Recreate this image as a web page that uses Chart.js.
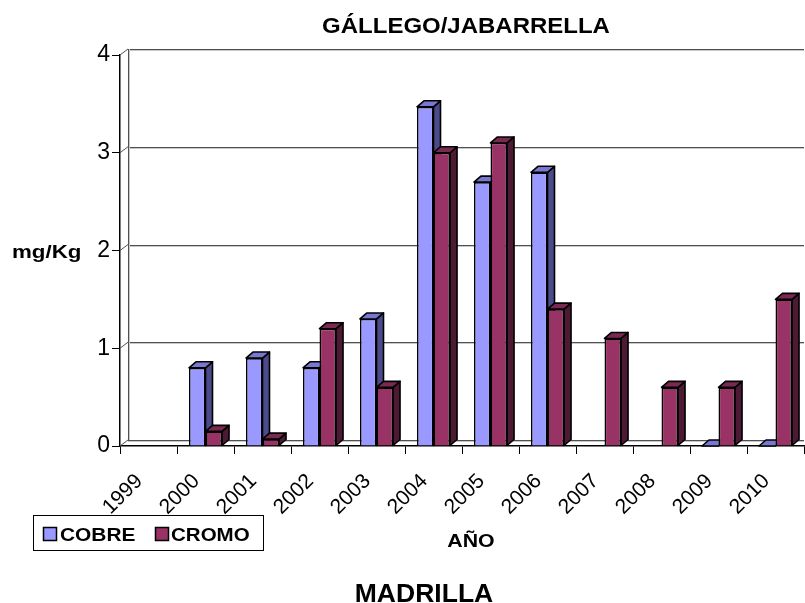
<!DOCTYPE html>
<html>
<head>
<meta charset="utf-8">
<script src="https://cdn.jsdelivr.net/npm/chart.js@4/dist/chart.umd.min.js"></script>
<style>
html,body{margin:0;padding:0;background:#fff;}
#c{display:block;}
</style>
</head>
<body>
<canvas id="c" width="805" height="603"></canvas>
<script>
// ---- data ----
const years = ['1999','2000','2001','2002','2003','2004','2005','2006','2007','2008','2009','2010'];
const cobre = [null, 0.8, 0.9, 0.8, 1.3, 3.47, 2.7, 2.8, null, null, 0, 0];
const cromo = [null, 0.15, 0.07, 1.2, 0.6, 3.0, 3.1, 1.4, 1.1, 0.6, 0.6, 1.5];
const yTicks = [0, 1, 2, 3, 4];
const seriesNames = ['COBRE', 'CROMO'];
const titleText = 'GÁLLEGO/JABARRELLA';
const yTitle = 'mg/Kg';
const xTitle = 'AÑO';
const footText = 'MADRILLA';

const FONT = '"Liberation Sans", Arial, sans-serif';
const colors = {
  front: ['#9999FF', '#993366'],
  top:   ['#7878D2', '#7A2952'],
  side:  ['#4B4B8C', '#4D1A33']
};
const WDX = 8, WDY = 6;   // wall depth
const BDX = 7, BDY = 6;   // bar depth

function txt(ctx, s, x, y, font, sx, align) {
  ctx.save();
  ctx.font = font;
  ctx.fillStyle = '#000';
  ctx.textBaseline = 'alphabetic';
  ctx.textAlign = 'left';
  const w = ctx.measureText(s).width * sx;
  const left = align === 'center' ? x - w / 2 : (align === 'right' ? x - w : x);
  ctx.translate(left, y);
  ctx.scale(sx, 1);
  ctx.fillText(s, 0, 0);
  ctx.restore();
}

const threeD = {
  id: 'threeD',
  beforeDatasetsDraw(chart) {
    const ctx = chart.ctx;
    const ys = chart.scales.y;
    const a = chart.chartArea;
    ctx.save();
    yTicks.forEach(v => {
      const py = Math.round(ys.getPixelForValue(v) - WDY) + 0.5;
      ctx.strokeStyle = '#C8C8C8';
      ctx.lineWidth = 1;
      ctx.beginPath(); ctx.moveTo(a.left + WDX, py + 1); ctx.lineTo(a.right, py + 1); ctx.stroke();
      ctx.strokeStyle = '#505050';
      ctx.beginPath(); ctx.moveTo(a.left + WDX, py); ctx.lineTo(a.right, py); ctx.stroke();
      const fy = ys.getPixelForValue(v);
      ctx.strokeStyle = '#505050';
      ctx.beginPath(); ctx.moveTo(a.left, fy); ctx.lineTo(a.left + WDX, fy - WDY); ctx.stroke();
    });
    const x2 = Math.round(a.left + WDX) + 0.5;
    ctx.strokeStyle = '#C8C8C8';
    ctx.beginPath(); ctx.moveTo(x2 + 1, ys.getPixelForValue(0) - WDY); ctx.lineTo(x2 + 1, ys.getPixelForValue(4) - WDY); ctx.stroke();
    ctx.strokeStyle = '#505050';
    ctx.beginPath(); ctx.moveTo(x2, ys.getPixelForValue(0) - WDY); ctx.lineTo(x2, ys.getPixelForValue(4) - WDY); ctx.stroke();

    const n = years.length;
    for (let i = 0; i < n; i++) {
      for (let d = 0; d < 2; d++) {
        const meta = chart.getDatasetMeta(d);
        const val = chart.data.datasets[d].data[i];
        if (val === null || val === undefined) continue;
        const el = meta.data[i];
        const p = el.getProps(['x', 'y', 'base', 'width'], true);
        const l = p.x - p.width / 2, r = p.x + p.width / 2;
        const t = p.y, b = p.base;
        ctx.lineWidth = 1.6;
        ctx.lineJoin = 'round';
        ctx.strokeStyle = '#000';
        if (b - t > 0.5) {
          ctx.fillStyle = colors.side[d];
          ctx.beginPath();
          ctx.moveTo(r, t); ctx.lineTo(r + BDX, t - BDY); ctx.lineTo(r + BDX, b - BDY); ctx.lineTo(r, b); ctx.closePath();
          ctx.fill(); ctx.stroke();
        }
        ctx.fillStyle = colors.top[d];
        ctx.beginPath();
        ctx.moveTo(l, t); ctx.lineTo(l + BDX, t - BDY); ctx.lineTo(r + BDX, t - BDY); ctx.lineTo(r, t); ctx.closePath();
        ctx.fill(); ctx.stroke();
      }
    }
    ctx.restore();
  },
  afterDraw(chart) {
    const ctx = chart.ctx;
    txt(ctx, titleText, 466, 33, 'bold 22px ' + FONT, 1.09, 'center');
    txt(ctx, yTitle, 12, 258, 'bold 18px ' + FONT, 1.24, 'left');
    txt(ctx, xTitle, 471, 547, 'bold 19px ' + FONT, 1.12, 'center');
    txt(ctx, footText, 424, 602, 'bold 26px ' + FONT, 1.02, 'center');
    ctx.save();
    ctx.strokeStyle = '#000';
    ctx.lineWidth = 1;
    ctx.fillStyle = '#fff';
    ctx.fillRect(33.5, 515.5, 230, 35);
    ctx.strokeRect(33.5, 515.5, 230, 35);
    const items = [[43, 63], [155, 172]];
    ctx.lineWidth = 1.5;
    items.forEach((it, d) => {
      ctx.fillStyle = colors.front[d];
      ctx.fillRect(it[0] + 0.5, 527.5, 13, 13);
      ctx.strokeRect(it[0] + 0.5, 527.5, 13, 13);
    });
    ctx.restore();
    txt(ctx, seriesNames[0], 60, 541, 'bold 18px ' + FONT, 1.16, 'left');
    txt(ctx, seriesNames[1], 171, 541, 'bold 18px ' + FONT, 1.14, 'left');
  }
};

new Chart(document.getElementById('c'), {
  type: 'bar',
  data: {
    labels: years,
    datasets: [
      { label: seriesNames[0], data: cobre, backgroundColor: colors.front[0], borderColor: '#000', borderWidth: 1.6 },
      { label: seriesNames[1], data: cromo, backgroundColor: colors.front[1], borderColor: '#000', borderWidth: 1.6 }
    ]
  },
  options: {
    responsive: false,
    animation: false,
    devicePixelRatio: 1,
    layout: { padding: { top: 55, right: 1, left: 0, bottom: 0 } },
    datasets: { bar: { categoryPercentage: 0.58, barPercentage: 1.0 } },
    plugins: { legend: { display: false }, tooltip: { enabled: false }, title: { display: false } },
    scales: {
      x: {
        afterFit(s) { s.height = 157; s.paddingLeft = 0; s.paddingRight = 0; },
        grid: { offset: true, drawOnChartArea: false, drawTicks: true, tickLength: 8, color: '#000' },
        border: { display: true, color: '#000', width: 1.5 },
        ticks: { color: '#000', font: { family: FONT, size: 21 }, minRotation: 45, maxRotation: 45, autoSkip: false, padding: 15, labelOffset: -9 }
      },
      y: {
        min: 0, max: 4,
        afterFit(s) { s.width = 120; },
        afterBuildTicks(s) { s.ticks = yTicks.map(v => ({ value: v })); },
        grid: { drawOnChartArea: false, drawTicks: true, tickLength: 8, color: '#000' },
        border: { display: true, color: '#000', width: 1.5 },
        ticks: { color: '#000', font: { family: FONT, size: 23 }, padding: 2 }
      }
    }
  },
  plugins: [threeD]
});
</script>
</body>
</html>
